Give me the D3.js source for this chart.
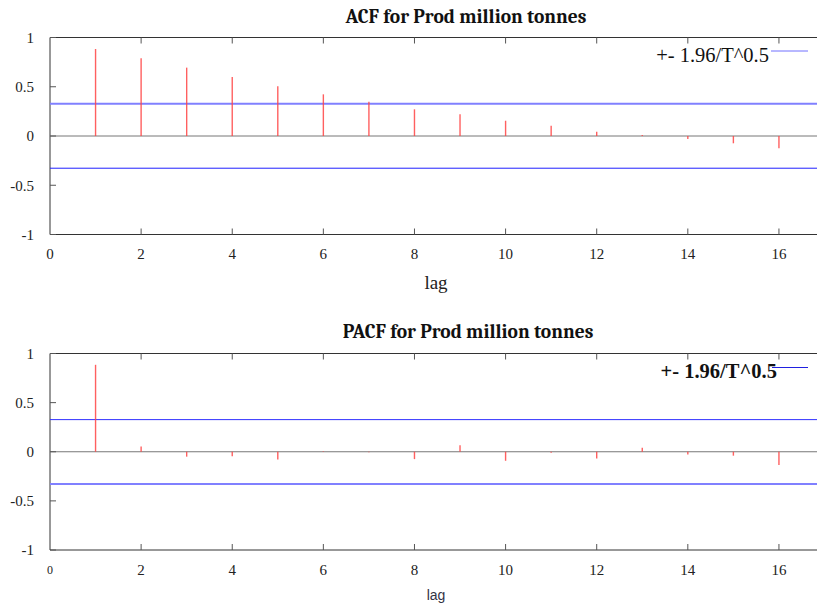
<!DOCTYPE html>
<html><head><meta charset="utf-8">
<script src="https://cdn.jsdelivr.net/npm/d3@7"></script>
<style>body{margin:0;background:#fff}svg{display:block}</style>
</head><body>
<svg id="c" width="817" height="605"></svg>
<script>
const lags = [1,2,3,4,5,6,7,8,9,10,11,12,13,14,15,16];
const acfValues = [0.883,0.789,0.694,0.599,0.504,0.423,0.348,0.271,0.22,0.155,0.105,0.044,0.01,-0.03,-0.074,-0.125];
const pacfValues = [0.885,0.054,-0.05,-0.047,-0.08,0.005,-0.005,-0.075,0.065,-0.092,-0.01,-0.068,0.04,-0.028,-0.04,-0.135];
const bandValue = 0.327;
const xTicks = [0,2,4,6,8,10,12,14,16];
const yTicks = [1,0.5,0,-0.5,-1];
const yTickLabels = ["1","0.5","0","-0.5","-1"];
const legendLabel = "+- 1.96/T^0.5";
const titles = ["ACF for Prod million tonnes","PACF for Prod million tonnes"];

const svg = d3.select("#c");
const serif = "'Liberation Serif','DejaVu Serif',serif";

function panel(cfg){
  const g = svg.append("g");
  const x = d3.scaleLinear().domain([0,17]).range([50,824.5]);
  const y = d3.scaleLinear().domain([-1,1]).range([cfg.bottom,cfg.top]);
  g.append("text").attr("x",cfg.titleX).attr("y",cfg.titleY).attr("text-anchor","middle")
    .attr("font-family","Cambria,'Liberation Serif',serif").attr("font-weight","bold").attr("font-size",19.5)
    .attr("fill","#111").text(cfg.title);
  g.append("line").attr("x1",x(0)).attr("x2",817).attr("y1",y(1)).attr("y2",y(1)).attr("stroke","#333");
  g.append("line").attr("x1",x(0)).attr("x2",817).attr("y1",y(-1)).attr("y2",y(-1)).attr("stroke","#333");
  g.append("line").attr("x1",x(0)).attr("x2",x(0)).attr("y1",y(1)).attr("y2",y(-1)).attr("stroke","#333");
  g.append("line").attr("x1",x(0)).attr("x2",817).attr("y1",y(0)).attr("y2",y(0)).attr("stroke","#777");
  yTicks.forEach((t,i)=>{
    g.append("line").attr("x1",x(0)).attr("x2",x(0)+6).attr("y1",y(t)).attr("y2",y(t)).attr("stroke","#555");
    g.append("text").attr("x",34).attr("y",y(t)).attr("dy","0.35em").attr("text-anchor","end")
      .attr("font-family",serif).attr("font-size",15).attr("fill","#222").text(yTickLabels[i]);
  });
  xTicks.forEach(t=>{
    if(t>0){
      g.append("line").attr("x1",x(t)).attr("x2",x(t)).attr("y1",y(1)).attr("y2",y(1)+6).attr("stroke","#555");
      g.append("line").attr("x1",x(t)).attr("x2",x(t)).attr("y1",y(-1)).attr("y2",y(-1)-6).attr("stroke","#555");
    }
    g.append("text").attr("x",x(t)).attr("y",cfg.xLabelY).attr("dy","0.35em").attr("text-anchor","middle")
      .attr("font-family",serif).attr("font-size",t===0&&cfg.small0?12:15).attr("fill","#222").text(t);
  });
  g.append("line").attr("x1",x(0)).attr("x2",817).attr("y1",y(bandValue)).attr("y2",y(bandValue))
    .attr("stroke",cfg.upperColor).attr("stroke-width",cfg.upperW);
  g.append("line").attr("x1",x(0)).attr("x2",817).attr("y1",y(-bandValue)).attr("y2",y(-bandValue))
    .attr("stroke",cfg.lowerColor).attr("stroke-width",cfg.lowerW);
  g.selectAll(".s").data(cfg.values).enter().append("line")
    .attr("x1",(d,i)=>x(lags[i])).attr("x2",(d,i)=>x(lags[i]))
    .attr("y1",y(0)).attr("y2",d=>y(d))
    .attr("stroke","#ff4444").attr("stroke-width",1.4).attr("stroke-opacity",0.85);
  g.append("text").attr("x",cfg.legX).attr("y",cfg.legY).attr("text-anchor","end")
    .attr("font-family",serif).attr("font-size",cfg.legSize).attr("font-weight",cfg.legBold?"bold":"normal")
    .attr("fill","#111").text(legendLabel);
  g.append("line").attr("x1",cfg.legX1).attr("x2",808).attr("y1",cfg.legLineY).attr("y2",cfg.legLineY)
    .attr("stroke",cfg.legColor).attr("stroke-width",1);
  g.append("text").attr("x",436).attr("y",cfg.lagY).attr("dy","0.35em").attr("text-anchor","middle")
    .attr("font-family",cfg.lagFont).attr("font-size",cfg.lagSize).attr("fill",cfg.lagColor).text("lag");
}

panel({top:37.5,bottom:234.5,title:titles[0],titleX:466,titleY:23,values:acfValues,xLabelY:254,
  small0:false,upperColor:"#8080ff",upperW:2,lowerColor:"#2020ff",lowerW:1,
  legX:769,legY:62,legSize:20.5,legBold:false,legX1:771,legLineY:51,legColor:"#7070ff",
  lagY:282,lagFont:serif,lagSize:19,lagColor:"#222"});
panel({top:353.5,bottom:550,title:titles[1],titleX:468,titleY:338,values:pacfValues,xLabelY:570,
  small0:true,upperColor:"#3030ff",upperW:1,lowerColor:"#8080ff",lowerW:2,
  legX:777,legY:378,legSize:20.5,legBold:true,legX1:772,legLineY:367.5,legColor:"#2020e0",
  lagY:595,lagFont:"'Liberation Sans',Arial,sans-serif",lagSize:14,lagColor:"#334"});
</script>
</body></html>
